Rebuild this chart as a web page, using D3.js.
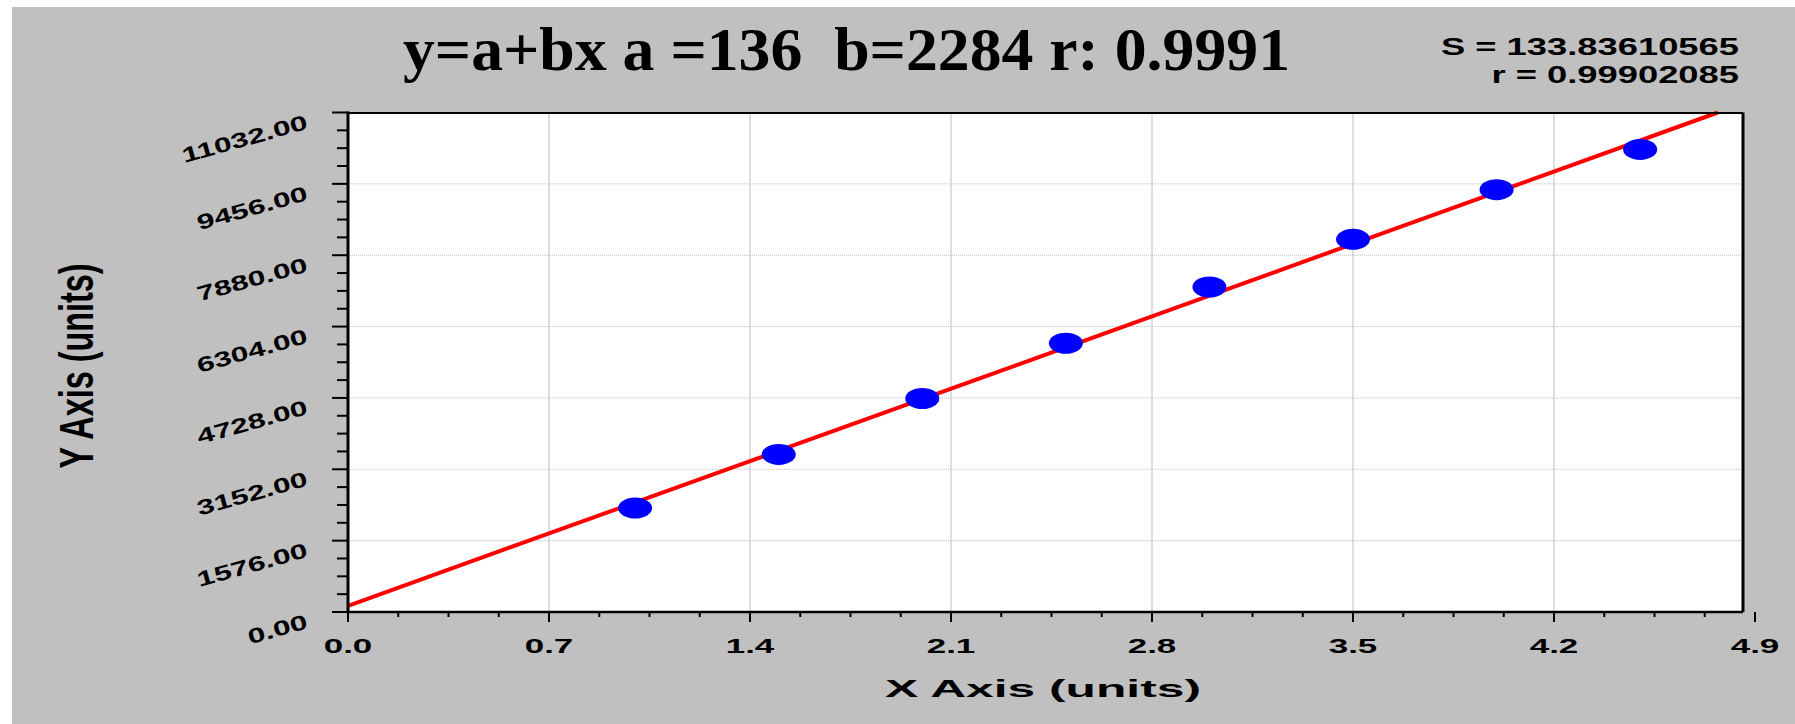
<!DOCTYPE html>
<html>
<head>
<meta charset="utf-8">
<script src="https://cdn.jsdelivr.net/npm/d3@7/dist/d3.min.js"></script>
<style>
  html, body { margin: 0; padding: 0; background: #ffffff; }
  svg { display: block; }
  text { font-family: "Liberation Sans", Arial, sans-serif; font-weight: bold; fill: #000; }
</style>
</head>
<body>
<svg id="chart" width="1795" height="724"></svg>
<script>
// ---- data ----
const xValues = [1.0, 1.5, 2.0, 2.5, 3.0, 3.5, 4.0, 4.5];
const yValues = [2295, 3480, 4715, 5935, 7177, 8230, 9327, 10216];
const fitA = 136;
const fitB = 2284;
const xTickValues = [0.0, 0.7, 1.4, 2.1, 2.8, 3.5, 4.2, 4.9];
const yTickValues = [0, 1576, 3152, 4728, 6304, 7880, 9456, 11032];
const titleText = "y=a+bx a =136  b=2284 r: 0.9991";
const statLines = ["S = 133.83610565", "r = 0.99902085"];
const xAxisTitle = "X Axis (units)";
const yAxisTitle = "Y Axis (units)";

(function () {
// ---- layout ----
const svg = d3.select("#chart");
const pLeft = 348, pRight = 1755, frameRight = 1743, pTop = 112.5, pBottom = 612;

const x = d3.scaleLinear().domain([0, 4.9]).range([pLeft, pRight]);
const y = d3.scaleLinear().domain([0, 11032]).range([pBottom, pTop]);

// background
svg.append("rect").attr("x", 12).attr("y", 7).attr("width", 1795 - 12).attr("height", 724 - 7).attr("fill", "#c0c0c0");
// plot area
svg.append("rect").attr("x", pLeft).attr("y", pTop).attr("width", frameRight - pLeft).attr("height", pBottom - pTop).attr("fill", "#ffffff");

// grid
const grid = svg.append("g");
grid.selectAll("line.v").data(xTickValues.filter(v => v > 0 && x(v) < frameRight)).enter().append("line")
  .attr("x1", d => x(d)).attr("x2", d => x(d)).attr("y1", pTop).attr("y2", pBottom)
  .attr("stroke", "#bcbcbc").attr("stroke-width", 1);
grid.selectAll("line.h").data(yTickValues.filter(v => v > 0 && v < 11032)).enter().append("line")
  .attr("x1", pLeft).attr("x2", frameRight).attr("y1", d => y(d)).attr("y2", d => y(d))
  .attr("stroke", "#bdbdbd").attr("stroke-width", 1).attr("stroke-dasharray", "1,1");

// fit line
const xEnd = (11032 - fitA) / fitB;
const line = d3.line().x(d => x(d)).y(d => y(fitA + fitB * d));
svg.append("path").datum([0, xEnd]).attr("d", line)
  .attr("fill", "none").attr("stroke", "#ff0000").attr("stroke-width", 4);

// points
svg.selectAll("ellipse.pt").data(xValues.map((v, i) => [v, yValues[i]])).enter().append("ellipse")
  .attr("cx", d => x(d[0])).attr("cy", d => y(d[1]))
  .attr("rx", 17).attr("ry", 10.5).attr("fill", "#0000ff");

// frame (top and right)
svg.append("line").attr("x1", pLeft).attr("x2", frameRight).attr("y1", pTop + 0.5).attr("y2", pTop + 0.5)
  .attr("stroke", "#000").attr("stroke-width", 2);
svg.append("line").attr("x1", frameRight).attr("x2", frameRight).attr("y1", pTop).attr("y2", pBottom)
  .attr("stroke", "#000").attr("stroke-width", 3);

// x axis
const xMinor = d3.range(0, 4.9 + 1e-9, 0.175).filter(v => Math.abs(v / 0.7 - Math.round(v / 0.7)) > 1e-6);
const gx = svg.append("g");
gx.append("line").attr("x1", pLeft - 1.5).attr("x2", frameRight).attr("y1", pBottom).attr("y2", pBottom)
  .attr("stroke", "#000").attr("stroke-width", 2.5);
gx.selectAll("line.maj").data(xTickValues).enter().append("line")
  .attr("x1", d => x(d)).attr("x2", d => x(d)).attr("y1", pBottom).attr("y2", pBottom + 10)
  .attr("stroke", "#000").attr("stroke-width", 2);
gx.selectAll("line.min").data(xMinor).enter().append("line")
  .attr("x1", d => x(d)).attr("x2", d => x(d)).attr("y1", pBottom).attr("y2", pBottom + 5)
  .attr("stroke", "#000").attr("stroke-width", 2);
gx.selectAll("text").data(xTickValues).enter().append("text")
  .attr("transform", d => `translate(${x(d)},652.5) scale(1.75,1)`)
  .attr("text-anchor", "middle").style("font-size", "20px")
  .text(d => d3.format(".1f")(d));

// y axis
const yMinor = d3.range(0, 11032 + 1, 394).filter(v => v % 1576 !== 0);
const gy = svg.append("g");
gy.append("line").attr("x1", pLeft).attr("x2", pLeft).attr("y1", pTop - 1).attr("y2", pBottom + 1)
  .attr("stroke", "#000").attr("stroke-width", 3);
gy.selectAll("line.maj").data(yTickValues).enter().append("line")
  .attr("x1", pLeft - 16).attr("x2", pLeft).attr("y1", d => y(d)).attr("y2", d => y(d))
  .attr("stroke", "#000").attr("stroke-width", 2);
gy.selectAll("line.min").data(yMinor).enter().append("line")
  .attr("x1", pLeft - 11).attr("x2", pLeft).attr("y1", d => y(d)).attr("y2", d => y(d))
  .attr("stroke", "#000").attr("stroke-width", 2);
gy.selectAll("text").data(yTickValues).enter().append("text")
  .attr("transform", d => `translate(309,${y(d) + 16}) rotate(-15.5) scale(1.5,1)`)
  .attr("text-anchor", "end").style("font-size", "21px")
  .text(d => d3.format(".2f")(d));

// title
svg.append("text").attr("x", 403).attr("y", 70)
  .attr("xml:space", "preserve").style("white-space", "pre")
  .style("font-family", '"Liberation Serif", "Times New Roman", serif')
  .style("font-size", "62px")
  .attr("textLength", 887).attr("lengthAdjust", "spacingAndGlyphs")
  .text(titleText);

// stats
svg.selectAll("text.stat").data(statLines).enter().append("text")
  .attr("transform", (d, i) => `translate(1739,${55 + i * 28.3}) scale(1.58,1)`)
  .attr("text-anchor", "end").style("font-size", "23px")
  .text(d => d);

// axis titles
svg.append("text").attr("x", 1043).attr("y", 697)
  .attr("text-anchor", "middle").style("font-size", "24px")
  .attr("textLength", 316).attr("lengthAdjust", "spacingAndGlyphs")
  .text(xAxisTitle);

svg.append("text").attr("transform", "translate(93,366) rotate(-90)")
  .attr("text-anchor", "middle")
  .style("font-family", '"Liberation Sans Narrow", "Liberation Sans", Arial, sans-serif')
  .style("font-size", "48px")
  .attr("textLength", 205).attr("lengthAdjust", "spacingAndGlyphs")
  .text(yAxisTitle);
})();
</script>
</body>
</html>
